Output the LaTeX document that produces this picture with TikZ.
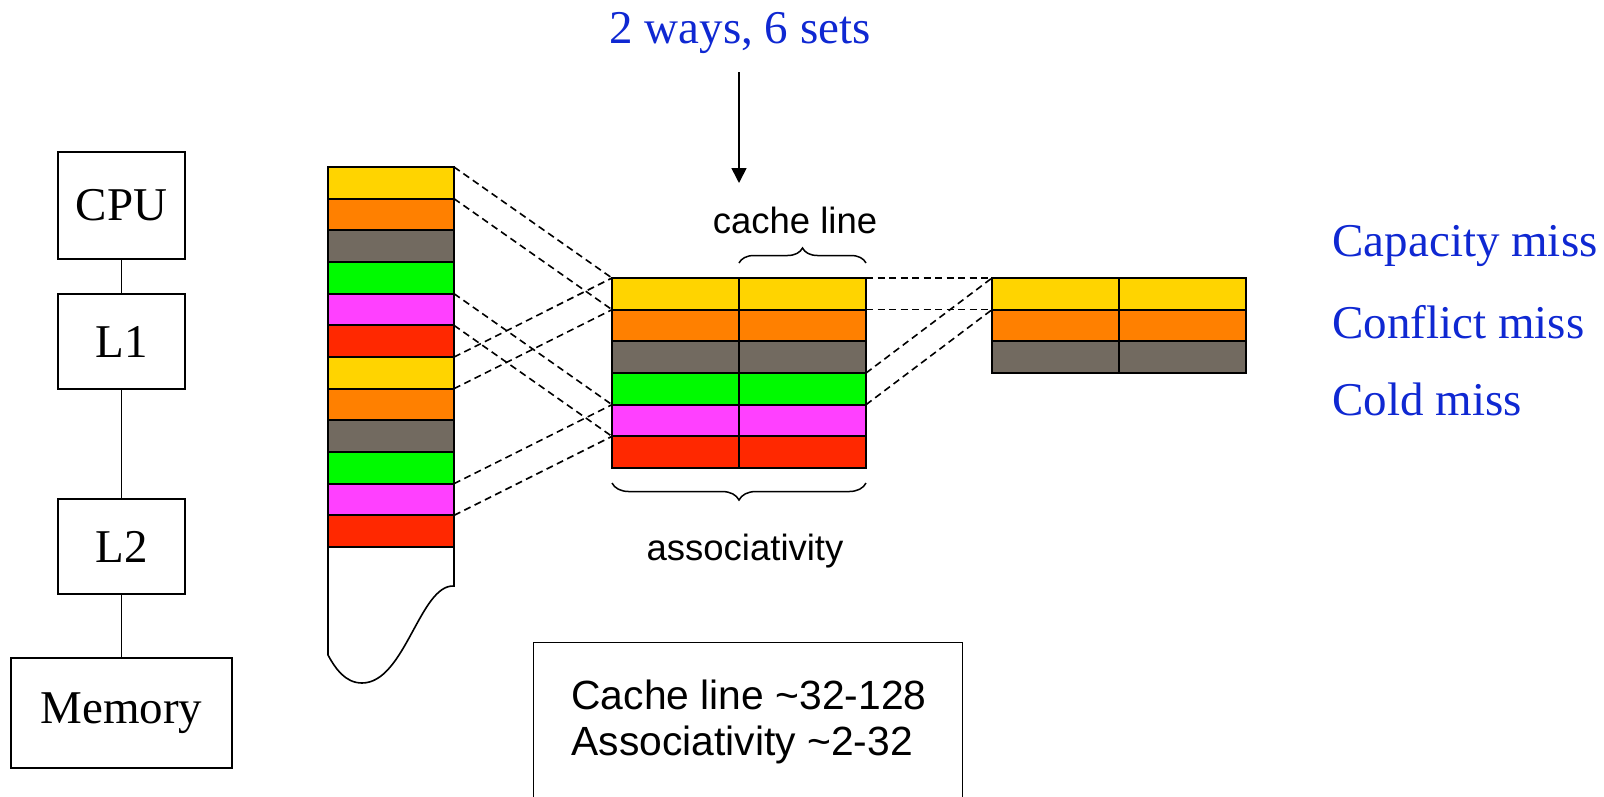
\documentclass[tikz,border=0pt]{standalone}
\usepackage{fontspec}
\setmainfont{Liberation Serif}
\setsansfont{Liberation Sans}
\usepackage{xcolor}
\usetikzlibrary{decorations.pathreplacing,arrows.meta}

\definecolor{cy}{RGB}{255,212,0}
\definecolor{co}{RGB}{255,128,0}
\definecolor{cg}{RGB}{114,106,96}
\definecolor{cgr}{RGB}{0,250,0}
\definecolor{cm}{RGB}{255,64,255}
\definecolor{cr}{RGB}{255,40,0}
\definecolor{missblue}{RGB}{15,40,210}

\begin{document}
\begin{tikzpicture}[x=1pt,y=-1pt,
                    unit/.style={draw,line width=1.4pt,inner sep=0pt,
                                 minimum width=127pt,font=\fontsize{47}{56}\selectfont},
                    cell/.style={draw,line width=1.8pt,inner sep=0pt,outer sep=0pt,
                                 minimum width=127pt,minimum height=31.67pt},
                    link/.style={line width=1.6pt,dash pattern=on 7pt off 4.5pt},
                    curly/.style={line width=1.5pt,decorate},
                    bluetext/.style={text=missblue,font=\fontsize{47}{56}\selectfont},
                    sanstext/.style={font=\sffamily\fontsize{36.5}{44}\selectfont},
                    boxtext/.style={font=\sffamily\fontsize{40.8}{46}\selectfont,anchor=base west}]
\useasboundingbox (0,0) rectangle (1604,796);

\node[unit,minimum height=107pt] (cpu) at (121.5,205.5) {CPU};
\node[unit,minimum height=95pt] (l1) at (121.5,341.5) {L1};
\node[unit,minimum height=95pt] (l2) at (121.5,546.5) {L2};
\node[unit,minimum width=221pt,minimum height=110pt] (mem) at (121.5,713) {Memory};
\draw[line width=1.4pt] (cpu) -- (l1);
\draw[line width=1.4pt] (l1) -- (l2);
\draw[line width=1.4pt] (l2) -- (mem);

\foreach \c [count=\i] in {cy,co,cg,cgr,cm,cr,cy,co,cg,cgr,cm,cr}
    \node[cell,minimum width=126pt,fill=\c] (m\i) at (391,{167+31.67*(\i-0.5)}) {};
\draw[line width=1.6pt] (m12.south east) -- (454,586)
    .. controls (420,584) and (405,683) .. (362,683)
    .. controls (345,683) and (335,668) .. (328,655) -- (m12.south west);

\foreach \c [count=\i] in {cy,co,cg,cgr,cm,cr} {
    \node[cell,fill=\c] (a\i) at (675.5,{278+31.67*(\i-0.5)}) {};
    \node[cell,fill=\c] (b\i) at (802.5,{278+31.67*(\i-0.5)}) {};
}
\foreach \c [count=\i] in {cy,co,cg} {
    \node[cell,fill=\c] (p\i) at (1055.5,{278+31.67*(\i-0.5)}) {};
    \node[cell,fill=\c] (q\i) at (1182.5,{278+31.67*(\i-0.5)}) {};
}

\foreach \k/\j in {1/1,2/2,5/5,6/6,7/1,8/2,11/5,12/6}
    \draw[link] (m\k.north east) -- (a\j.north west);
\foreach \k/\j in {1/1,2/2,4/1,5/2}
    \draw[link] (b\k.north east) -- (p\j.north west);

\node[bluetext,anchor=base west] (ways) at (606,43) {2 ways, 6 sets};
\coordinate (arrowtop) at (739,72);
\coordinate (arrowtip) at (739,183);
\draw[line width=1.6pt,-{Triangle[width=15pt,length=15pt]}] (arrowtop) -- (arrowtip);

\draw[curly,decoration={brace,amplitude=15pt}]
    ([yshift=15pt]b1.north west) -- ([yshift=15pt]b1.north east);
\node[sanstext,anchor=base] (linelabel) at (795,233) {cache line};
\draw[curly,decoration={brace,amplitude=17pt}]
    ([yshift=-15pt]b6.south east) -- ([yshift=-15pt]a6.south west);
\node[sanstext,anchor=base] (assoclabel) at (745,560) {associativity};

\node[bluetext,anchor=base west] (capacity) at (1329,256) {Capacity miss};
\node[bluetext,anchor=base west] (conflict) at (1329,338) {Conflict miss};
\node[bluetext,anchor=base west] (cold) at (1329,415) {Cold miss};

\node[draw,line width=1.4pt,anchor=north west,minimum width=429pt,minimum height=170pt] (sizes) at (533,642) {};
\node[boxtext] (linesize) at (568,709) {Cache line \textasciitilde32-128};
\node[boxtext] (waysize) at (568,755) {Associativity \textasciitilde2-32};
\end{tikzpicture}
\end{document}
